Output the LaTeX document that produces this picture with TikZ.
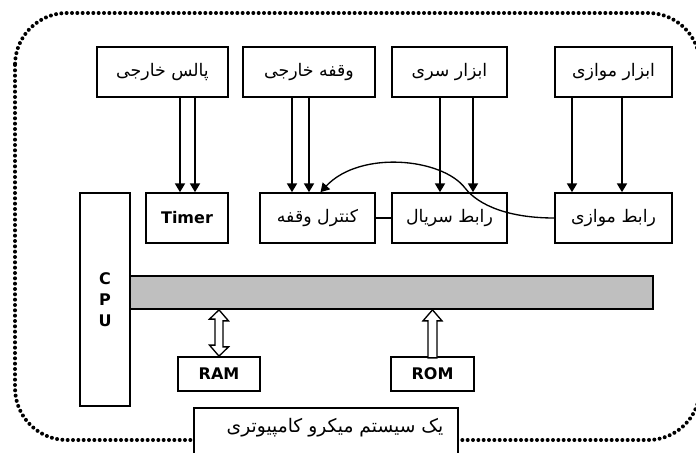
\documentclass[tikz,border=0pt]{standalone}
\usepackage{fontspec}
\newfontfamily\fa[Script=Arabic]{DejaVu Sans}
\newfontfamily\lat{DejaVu Sans}
\TeXXeTstate=1
\usetikzlibrary{arrows.meta,calc}
\tikzset{
  box/.style={draw,line width=1.3pt,fill=white,inner sep=0pt,minimum height=37.5pt},
  fatext/.style={font=\fa\fontsize{13}{15}\selectfont},
  lattext/.style={font=\lat\bfseries\fontsize{12}{14}\selectfont},
  arr/.style={line width=1pt,-{Triangle[width=7.5pt,length=6.5pt]}},
  hollow/.style={draw,line width=1pt,fill=white,line join=miter},
  frame/.style={line width=3pt,line cap=round,dash pattern=on 0pt off 4pt,rounded corners=39pt}
}
\begin{document}
\begin{tikzpicture}[x=0.75pt,y=-0.75pt]
\useasboundingbox (0,0) rectangle (696,453);
\draw[frame] (15,13) rectangle (700,440);
% top devices
\node[box,fatext,minimum width=98.25pt] (pulse) at (162.5,72) {\beginR پالس خارجی\endR};
\node[box,fatext,minimum width=99pt] (intext) at (309,72) {\beginR وقفه خارجی\endR};
\node[box,fatext,minimum width=86.25pt] (serdev) at (449.5,72) {\beginR ابزار سری\endR};
\node[box,fatext,minimum width=87.75pt] (pardev) at (613.5,72) {\beginR ابزار موازی\endR};
% interfaces
\node[box,lattext,minimum width=61.5pt] (timer) at (187,218) {Timer};
\node[box,fatext,minimum width=86.25pt] (intctl) at (317.5,218) {\beginR کنترل وقفه\endR};
\node[box,fatext,minimum width=86.25pt] (serif) at (449.5,218) {\beginR رابط سریال\endR};
\node[box,fatext,minimum width=87.75pt] (parif) at (613.5,218) {\beginR رابط موازی\endR};
% bus and cpu
\node[draw,line width=1.3pt,fill=gray!50,minimum width=392.25pt,minimum height=24.75pt,inner sep=0pt] (bus) at (391.5,292.5) {};
\node[box,minimum width=37.5pt,minimum height=159.75pt,align=center,font=\lat\bfseries\fontsize{12}{15.75}\selectfont] (cpu) at (105,299.5) {C\\P\\U};
% memories
\node[box,lattext,minimum width=61.5pt,minimum height=25.5pt] (ram) at (219,374) {RAM};
\node[box,lattext,minimum width=62.25pt,minimum height=25.5pt] (rom) at (432.5,374) {ROM};
% arrows from devices
\foreach \src/\dst/\dx in {pulse/timer/17.5, pulse/timer/32.5, intext/intctl/-17, intext/intctl/0, serdev/serif/-9.5, serdev/serif/23.5, pardev/parif/-41.5, pardev/parif/8.5}{
  \path ($(\src.south)+(\dx,0)$) coordinate (st);
  \draw[arr] (st) -- (st |- \dst.north);
}
\draw[line width=1.3pt] (intctl.east) -- (serif.west);
% interrupt curve
\coordinate (cmid) at (465,188);
\draw[arr] (parif.west) .. controls (510,218) and (479,206) .. (cmid)
  .. controls (442,158) and (360,150) .. ($(intctl.north)+(3,0)$);
% hollow arrows
\draw[hollow] (ram.north |- bus.south) -- ++(9.5,11) -- ++(-5.5,0) -- ++(0,26) -- ++(5.5,0) -- (ram.north) -- ++(-9.5,-11) -- ++(5.5,0) -- ++(0,-26) -- ++(-5.5,0) -- cycle;
\draw[hollow] (rom.north |- bus.south) -- ++(9.5,11) -- ++(-5,0) -- ++(0,37) -- ++(-9,0) -- ++(0,-37) -- ++(-5,0) -- cycle;
% title box
\node[box,anchor=north,minimum width=198pt,minimum height=40pt] (titlebox) at (326,407) {};
\node[font=\fa\fontsize{14}{16}\selectfont] (title) at (335,428) {\beginR یک سیستم میکرو کامپیوتری\endR};
\end{tikzpicture}
\end{document}
